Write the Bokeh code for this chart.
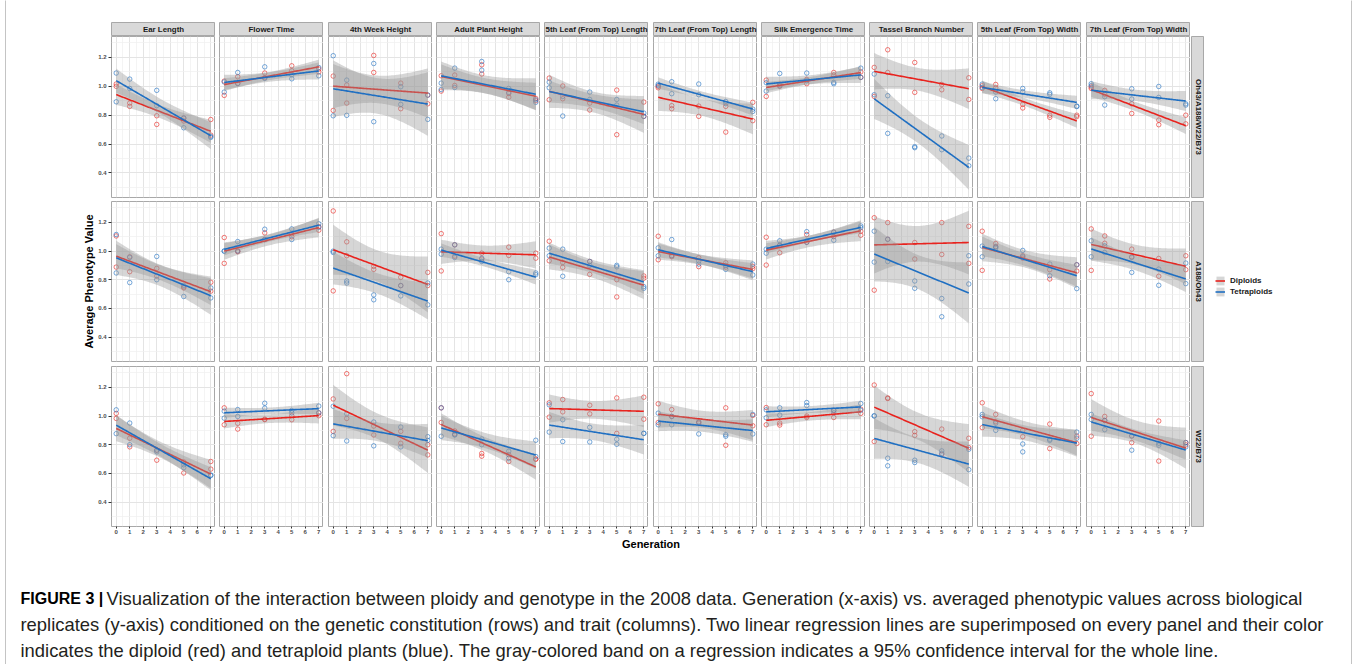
import numpy as np
from bokeh.plotting import figure
from bokeh.layouts import row, column
from bokeh.models import (Range1d, LinearAxis, Grid, FixedTicker, NumeralTickFormatter,
                          Legend, LegendItem)
from bokeh.core.properties import value
from bokeh.embed import file_html
from bokeh.resources import INLINE

# ------------------------------------------------------------------ data
TRAITS = ["Ear Length", "Flower Time", "4th Week Height", "Adult Plant Height",
          "5th Leaf (From Top) Length", "7th Leaf (From Top) Length",
          "Silk Emergence Time", "Tassel Branch Number",
          "5th Leaf (From Top) Width", "7th Leaf (From Top) Width"]
GENOTYPES = ["Oh43/A188/W22/B73", "A188/Oh43", "W22/B73"]
PLOIDY = ["Diploids", "Tetraploids"]
GENERATION = [0, 0, 1, 1, 3, 3, 5, 5, 7, 7]
X_TICKS = [0, 1, 2, 3, 4, 5, 6, 7]
Y_TICKS = [0.4, 0.6, 0.8, 1.0, 1.2]

# Oh43/A188/W22/B73 (one list per trait, values at GENERATION)
OH43_A188_W22_B73_DIPLOIDS = [
    [1.016, 1.000, 0.884, 0.861, 0.796, 0.736, 0.780, 0.760, 0.770, 0.662],
    [1.036, 0.937, 1.066, 1.020, 1.092, 1.060, 1.142, 1.108, 1.100, 1.120],
    [1.071, 0.833, 1.009, 0.884, 1.214, 1.096, 1.022, 0.845, 0.939, 0.879],
    [1.073, 0.967, 1.078, 1.006, 1.149, 1.085, 0.951, 0.925, 0.916, 0.900],
    [1.057, 0.907, 1.002, 0.914, 0.884, 0.836, 0.974, 0.665, 0.891, 0.792],
    [1.000, 0.990, 0.866, 0.845, 0.863, 0.792, 0.861, 0.683, 0.889, 0.762],
    [1.043, 0.930, 1.015, 1.000, 1.048, 1.018, 1.096, 1.078, 1.100, 1.062],
    [1.131, 0.930, 1.253, 1.096, 1.165, 0.958, 1.013, 0.976, 1.059, 0.909],
    [1.004, 0.985, 1.013, 0.990, 0.875, 0.850, 0.800, 0.785, 0.800, 0.790],
    [0.985, 0.996, 0.972, 0.945, 0.879, 0.812, 0.766, 0.734, 0.800, 0.740],
]
OH43_A188_W22_B73_TETRAPLOIDS = [
    [1.092, 0.893, 1.050, 0.985, 0.972, 0.866, 0.713, 0.780, 0.653, 0.646],
    [1.030, 0.960, 1.096, 1.020, 1.135, 1.055, 1.052, 1.080, 1.130, 1.073],
    [1.212, 0.796, 1.043, 0.799, 1.158, 0.755, 0.997, 0.875, 0.939, 0.771],
    [1.022, 0.978, 1.126, 0.992, 1.172, 1.112, 0.985, 0.958, 0.907, 0.889],
    [1.029, 0.990, 0.794, 0.930, 0.960, 0.909, 0.909, 0.870, 0.815, 0.792],
    [1.015, 1.005, 1.032, 0.949, 1.016, 0.942, 0.895, 0.880, 0.842, 0.826],
    [1.025, 0.967, 1.089, 1.005, 1.092, 1.040, 1.027, 1.018, 1.126, 1.062],
    [1.085, 0.942, 0.935, 0.674, 0.582, 0.575, 0.656, 0.561, 0.503, 0.450],
    [1.015, 0.992, 0.960, 0.914, 0.985, 0.962, 0.955, 0.944, 0.863, 0.860],
    [1.018, 1.005, 0.928, 0.870, 0.983, 0.912, 0.999, 0.923, 0.879, 0.870],
]
# A188/Oh43
A188_OH43_DIPLOIDS = [
    [1.105, 0.888, 0.960, 0.856, 0.879, 0.826, 0.750, 0.743, 0.782, 0.720],
    [1.094, 0.914, 0.995, 1.000, 1.126, 1.080, 1.120, 1.100, 1.170, 1.145],
    [1.279, 0.722, 1.064, 0.967, 0.893, 0.872, 0.817, 0.759, 0.851, 0.759],
    [1.121, 0.861, 1.043, 0.964, 0.985, 0.944, 1.027, 0.969, 0.985, 0.950],
    [1.068, 0.932, 0.920, 0.886, 0.927, 0.837, 0.800, 0.680, 0.826, 0.810],
    [1.103, 0.939, 0.967, 0.960, 0.953, 0.891, 0.918, 0.888, 0.893, 0.877],
    [1.096, 0.902, 0.988, 1.040, 1.115, 1.061, 1.131, 1.100, 1.138, 1.110],
    [1.232, 0.727, 1.198, 1.082, 1.059, 0.944, 1.198, 0.976, 1.172, 0.914],
    [1.138, 0.865, 1.052, 1.030, 0.967, 0.950, 0.870, 0.805, 0.904, 0.860],
    [1.154, 0.865, 1.105, 1.054, 1.013, 0.960, 0.948, 0.824, 0.967, 0.870],
]
A188_OH43_TETRAPLOIDS = [
    [1.115, 0.847, 0.955, 0.780, 0.962, 0.800, 0.683, 0.760, 0.743, 0.673],
    [0.999, 1.000, 1.066, 1.000, 1.152, 1.080, 1.154, 1.080, 1.190, 1.165],
    [0.999, 0.990, 0.791, 0.777, 0.694, 0.660, 0.759, 0.687, 0.777, 0.625],
    [1.013, 0.978, 1.043, 0.955, 0.927, 0.950, 0.856, 0.800, 0.847, 0.835],
    [1.020, 0.967, 1.013, 0.824, 0.927, 0.900, 0.900, 0.890, 0.752, 0.740],
    [1.022, 0.967, 1.080, 0.967, 0.909, 0.930, 0.900, 0.872, 0.909, 0.833],
    [1.013, 0.985, 1.071, 1.040, 1.135, 1.061, 1.131, 1.075, 1.175, 1.163],
    [1.138, 0.923, 1.082, 0.927, 0.791, 0.740, 0.669, 0.542, 0.967, 0.770],
    [1.034, 0.960, 1.029, 1.020, 1.004, 0.960, 0.909, 0.828, 0.904, 0.738],
    [1.071, 0.960, 1.036, 0.990, 0.955, 0.851, 0.874, 0.761, 0.916, 0.773],
]
# W22/B73
W22_B73_DIPLOIDS = [
    [1.018, 0.983, 0.845, 0.785, 0.762, 0.692, 0.603, 0.680, 0.683, 0.630],
    [1.057, 0.939, 0.949, 0.909, 0.978, 0.975, 1.002, 0.974, 1.022, 1.002],
    [1.119, 0.893, 1.295, 0.983, 0.930, 0.868, 0.893, 0.810, 0.800, 0.729],
    [1.057, 0.955, 0.896, 0.875, 0.739, 0.720, 0.683, 0.730, 0.699, 0.700],
    [1.092, 0.992, 1.115, 1.029, 1.075, 1.015, 1.126, 0.879, 1.131, 0.978],
    [1.085, 0.955, 1.045, 0.997, 0.958, 0.950, 1.057, 0.796, 1.004, 0.932],
    [1.059, 0.939, 0.951, 0.937, 1.000, 0.990, 1.039, 0.990, 1.048, 1.018],
    [1.216, 0.822, 1.126, 1.122, 0.891, 0.865, 0.909, 0.732, 0.845, 0.780],
    [1.092, 0.919, 1.011, 0.960, 0.900, 0.856, 0.944, 0.773, 0.860, 0.808],
    [1.156, 0.859, 0.997, 0.969, 0.861, 0.815, 0.965, 0.686, 0.815, 0.799],
]
W22_B73_TETRAPLOIDS = [
    [1.043, 0.877, 0.951, 0.800, 0.762, 0.750, 0.640, 0.660, 0.589, 0.585],
    [1.034, 0.985, 1.045, 0.997, 1.089, 1.055, 1.039, 1.022, 1.069, 1.022],
    [1.068, 0.863, 1.015, 0.826, 0.958, 0.792, 0.923, 0.785, 0.856, 0.830],
    [1.057, 0.859, 0.868, 0.870, 0.840, 0.800, 0.755, 0.706, 0.831, 0.718],
    [1.078, 0.888, 0.974, 0.822, 0.921, 0.819, 0.838, 0.803, 0.879, 0.879],
    [1.020, 0.939, 0.997, 0.939, 0.958, 0.875, 0.870, 0.859, 1.011, 0.875],
    [1.043, 0.988, 1.057, 1.006, 1.094, 1.073, 1.039, 1.022, 1.087, 1.040],
    [1.002, 1.000, 0.706, 0.653, 0.692, 0.676, 0.757, 0.740, 0.768, 0.626],
    [1.011, 0.995, 0.950, 0.900, 0.805, 0.750, 0.838, 0.830, 0.888, 0.845],
    [1.011, 0.976, 0.969, 0.905, 0.861, 0.762, 0.810, 0.796, 0.815, 0.785],
]

Y_TITLE = "Average Phenotype Value"
X_TITLE = "Generation"
CAPTION_HEAD = "FIGURE 3 |"
CAPTION_LINES = [
    "Visualization of the interaction between ploidy and genotype in the 2008 data. Generation (x-axis) vs. averaged phenotypic values across biological",
    "replicates (y-axis) conditioned on the genetic constitution (rows) and trait (columns). Two linear regression lines are superimposed on every panel and their color",
    "indicates the diploid (red) and tetraploid plants (blue). The gray-colored band on a regression indicates a 95% confidence interval for the whole line.",
]

SERIES = [
    (OH43_A188_W22_B73_DIPLOIDS, OH43_A188_W22_B73_TETRAPLOIDS),
    (A188_OH43_DIPLOIDS, A188_OH43_TETRAPLOIDS),
    (W22_B73_DIPLOIDS, W22_B73_TETRAPLOIDS),
]

# ------------------------------------------------------------------ style / layout
FONT = "Liberation Sans"
RED, BLUE = "#E8231E", "#1F6FC2"
BAND = "#999999"
PANEL_BORDER = "#a8a8a8"
STRIP_FILL = "#d9d9d9"
T975 = {8: 2.306004}

CONTENT_LEFT = 6
CONTENT_W = 1345
COL_LEFT = [111, 219, 328, 436, 544, 653, 761, 869, 977, 1086]
PANEL_W = 104
ROW_H = [161, 160, 160]
ROW_BELOW = [4, 5, 12]
STRIP_TOP_H, STRIP_TOP_PAD = 14, 22
X_RANGE = (-0.35, 7.35)
Y_RANGE = (0.23, 1.345)


def left_border(c):
    if c == 0:
        return COL_LEFT[0] - CONTENT_LEFT
    return COL_LEFT[c] - (COL_LEFT[c - 1] + PANEL_W)


def bare_fig(**kw):
    base = dict(output_backend="svg", toolbar_location=None,
                x_axis_location=None, y_axis_location=None,
                min_border_left=0, min_border_right=0, min_border_top=0, min_border_bottom=0,
                border_fill_color="white", background_fill_color="white",
                outline_line_color=None)
    base.update(kw)
    f = figure(**base)
    f.center = [m for m in f.center if not isinstance(m, Grid)]
    return f


def fit_band(x, y):
    x = np.asarray(x, float)
    y = np.asarray(y, float)
    n = len(x)
    xb, yb = x.mean(), y.mean()
    sxx = ((x - xb) ** 2).sum()
    b = ((x - xb) * (y - yb)).sum() / sxx
    a = yb - b * xb
    s = np.sqrt(((y - (a + b * x)) ** 2).sum() / (n - 2))
    xs = np.linspace(x.min(), x.max(), 80)
    fit = a + b * xs
    half = T975[n - 2] * s * np.sqrt(1.0 / n + (xs - xb) ** 2 / sxx)
    return xs, fit, fit - half, fit + half


def style_axis(ax):
    ax.axis_line_color = None
    ax.major_tick_line_color = "#333333"
    ax.major_tick_in = 0
    ax.minor_tick_line_color = None
    ax.major_label_text_font = FONT
    ax.major_label_text_font_size = "6px"
    ax.major_label_text_font_style = "bold"
    ax.major_label_text_color = "#4d4d4d"


def panel(r, c):
    lb = left_border(c)
    p = bare_fig(width=lb + PANEL_W, height=ROW_H[r] + ROW_BELOW[r],
                 x_range=Range1d(*X_RANGE), y_range=Range1d(*Y_RANGE),
                 min_border_left=lb, min_border_bottom=ROW_BELOW[r],
                 outline_line_color=PANEL_BORDER, outline_line_width=1)
    p.add_layout(Grid(dimension=0, ticker=FixedTicker(ticks=X_TICKS,
                      minor_ticks=[t + 0.5 for t in range(-1, 8)]),
                      grid_line_color="#e4e4e4", grid_line_width=1,
                      minor_grid_line_color="#efefef", minor_grid_line_width=0.7))
    p.add_layout(Grid(dimension=1, ticker=FixedTicker(ticks=Y_TICKS,
                      minor_ticks=[0.3, 0.5, 0.7, 0.9, 1.1, 1.3]),
                      grid_line_color="#e4e4e4", grid_line_width=1,
                      minor_grid_line_color="#efefef", minor_grid_line_width=0.7))
    if c == 0:
        ax = LinearAxis(ticker=FixedTicker(ticks=Y_TICKS),
                        formatter=NumeralTickFormatter(format="0.0"))
        style_axis(ax)
        ax.major_tick_out = 3
        ax.major_label_standoff = 2
        if r == 1:
            ax.axis_label = Y_TITLE
            ax.axis_label_text_font = FONT
            ax.axis_label_text_font_size = "11px"
            ax.axis_label_text_font_style = "bold"
            ax.axis_label_text_color = "#000000"
            ax.axis_label_standoff = 0
        p.add_layout(ax, "left")
    if r == 2:
        ax = LinearAxis(ticker=FixedTicker(ticks=X_TICKS),
                        formatter=NumeralTickFormatter(format="0"))
        style_axis(ax)
        ax.major_tick_out = 2
        ax.major_label_standoff = 1
        p.add_layout(ax, "below")

    dip, tet = SERIES[r][0][c], SERIES[r][1][c]
    for vals, col in ((dip, RED), (tet, BLUE)):
        p.scatter(GENERATION, vals, marker="circle", size=4.5, fill_color=None,
                  line_color=col, line_alpha=0.6, line_width=1)
    for vals, col in ((dip, RED), (tet, BLUE)):
        xs, fit, lo, hi = fit_band(GENERATION, vals)
        p.varea(x=xs, y1=lo, y2=hi, fill_color=BAND, fill_alpha=0.4)
        p.line(xs, fit, line_color=col, line_width=1.6)
    return p


def strip_top(c):
    lb = left_border(c)
    p = bare_fig(width=lb + PANEL_W, height=STRIP_TOP_PAD + STRIP_TOP_H,
                 x_range=Range1d(0, 1), y_range=Range1d(0, 1),
                 min_border_left=lb, min_border_top=STRIP_TOP_PAD,
                 background_fill_color=STRIP_FILL, outline_line_color=PANEL_BORDER)
    p.text(x=[0.5], y=[0.5], text=[TRAITS[c]], text_align="center", text_baseline="middle",
           text_font=value(FONT), text_font_style="bold", text_font_size=value("7.9px"),
           text_color="#1a1a1a")
    return p


def strip_right(r):
    p = bare_fig(width=14, height=ROW_H[r] + ROW_BELOW[r],
                 x_range=Range1d(0, 1), y_range=Range1d(0, 1),
                 min_border_left=1, min_border_bottom=ROW_BELOW[r],
                 background_fill_color=STRIP_FILL, outline_line_color=PANEL_BORDER)
    p.text(x=[0.5], y=[0.5], text=[GENOTYPES[r]], angle=-np.pi / 2,
           text_align="center", text_baseline="middle",
           text_font=value(FONT), text_font_style="bold", text_font_size=value("7.9px"),
           text_color="#1a1a1a")
    return p


def legend_fig():
    h = ROW_H[1] + ROW_BELOW[1]
    p = bare_fig(width=CONTENT_LEFT + CONTENT_W - (COL_LEFT[-1] + PANEL_W + 14), height=h,
                 x_range=Range1d(0, 1), y_range=Range1d(0, 1))
    items = []
    for name, col in zip(PLOIDY, (RED, BLUE)):
        # key renderers kept outside the visible range: only their legend glyphs show
        rb = p.quad(left=[2], right=[3], top=[3], bottom=[2], fill_color=BAND, fill_alpha=0.4,
                    line_color=None)
        rl = p.line(x=[2, 3], y=[2, 2], line_color=col, line_width=1.6)
        items.append(LegendItem(label=name, renderers=[rb, rl]))
    leg = Legend(items=items, location=(11, 64), glyph_width=10, glyph_height=11,
                 label_height=11, label_standoff=5, spacing=0, padding=0, margin=0,
                 label_text_font=FONT, label_text_font_size="8px",
                 label_text_font_style="bold", label_text_color="#1a1a1a",
                 background_fill_alpha=0, border_line_color=None)
    p.add_layout(leg)
    return p


strip_row = row([strip_top(c) for c in range(10)])
panel_rows = []
for r in range(3):
    kids = [panel(r, c) for c in range(10)] + [strip_right(r)]
    if r == 1:
        kids.append(legend_fig())
    panel_rows.append(row(kids))

# x-axis title
GEN_H = 18
gen = bare_fig(width=CONTENT_W, height=GEN_H,
               x_range=Range1d(CONTENT_LEFT, CONTENT_LEFT + CONTENT_W), y_range=Range1d(GEN_H, 0))
gen.text(x=[(COL_LEFT[0] + COL_LEFT[-1] + PANEL_W) / 2], y=[5.5], text=[X_TITLE],
         text_align="center", text_baseline="middle", text_font=value(FONT),
         text_font_style="bold", text_font_size=value("11px"), text_color="#000000")

# caption
used = STRIP_TOP_PAD + STRIP_TOP_H + sum(ROW_H) + sum(ROW_BELOW) + GEN_H
CAP_H = 664 - used
cap = bare_fig(width=CONTENT_W, height=CAP_H,
               x_range=Range1d(CONTENT_LEFT, CONTENT_LEFT + CONTENT_W), y_range=Range1d(CAP_H, 0))
top = used
line_y = [598 - top, 624 - top, 650 - top]
cap.text(x=[20], y=[line_y[0]], text=[CAPTION_HEAD], text_align="left", text_baseline="middle",
         text_font=value(FONT), text_font_style="bold", text_font_size=value("16px"),
         text_color="#000000")
cap.text(x=[106, 20, 20], y=line_y, text=CAPTION_LINES, text_align="left",
         text_baseline="middle", text_font=value(FONT), text_font_size=value("18.4px"),
         text_color="#231f20")

content = column([strip_row] + panel_rows + [gen, cap])


def vbar(w, colr):
    return bare_fig(width=w, height=664, x_range=Range1d(0, 1), y_range=Range1d(0, 1),
                    background_fill_color=colr, border_fill_color=colr)


page = row([vbar(5, "white"), vbar(1, "#8a8a8a"), content, vbar(1, "#8a8a8a"), vbar(4, "white")])

open("out.html", "w").write(file_html(page, INLINE))
